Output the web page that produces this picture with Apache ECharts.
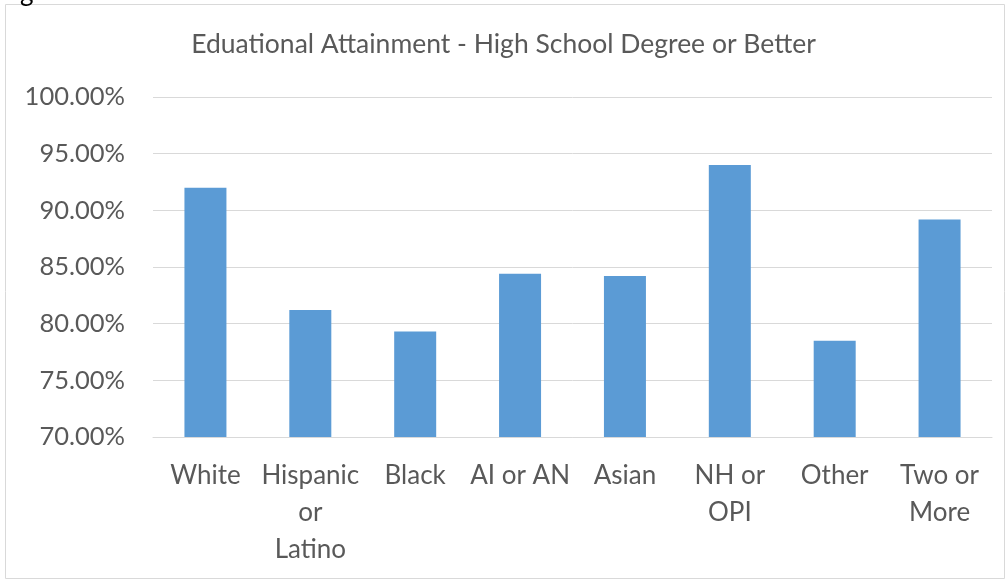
<!DOCTYPE html>
<html>
<head>
<meta charset="utf-8">
<script src="https://cdn.jsdelivr.net/npm/echarts@6/dist/echarts.min.js"></script>
<style>
  html, body { margin: 0; padding: 0; background: #fff; }
  #main { width: 1007px; height: 580px; }
</style>
</head>
<body>
<div id="main"></div>
<script>
// data
var categories = ["White", "Hispanic or Latino", "Black", "AI or AN", "Asian", "NH or OPI", "Other", "Two or More"];
var tickLabels = ["White", "Hispanic\nor\nLatino", "Black", "AI or AN", "Asian", "NH or\nOPI", "Other", "Two or\nMore"];
var attainment = [92.0, 81.2, 79.3, 84.4, 84.2, 94.0, 78.5, 89.2];

var chart = echarts.init(document.getElementById('main'));

var option = {
    animation: false,
    textStyle: { fontFamily: 'Lato' },
    title: {
        text: 'Eduational Attainment - High School Degree or Better',
        left: 'center',
        top: 26,
        textStyle: { fontFamily: 'Lato', fontSize: 26.5, fontWeight: 'normal', color: '#595959' }
    },
    graphic: [
        {
            type: 'rect',
            shape: { x: 5.5, y: 4.5, width: 999, height: 574 },
            style: { fill: 'none', stroke: '#d9d9d9', lineWidth: 1 }
        },
        {
            type: 'text',
            left: 20,
            top: -20,
            style: { text: 'g', font: '26px Lato', fill: '#000' }
        }
    ],
    grid: { left: 153, right: 15, top: 97, bottom: 143 },
    xAxis: {
        type: 'category',
        data: categories,
        axisLine: { lineStyle: { color: '#d9d9d9', width: 1 } },
        axisTick: { show: false },
        axisLabel: {
            interval: 0,
            margin: 20,
            fontSize: 26,
            lineHeight: 37,
            color: '#595959',
            formatter: function (v, i) { return tickLabels[i]; }
        }
    },
    yAxis: {
        type: 'value',
        min: 70,
        max: 100,
        interval: 5,
        axisLine: { show: false },
        axisTick: { show: false },
        splitLine: { lineStyle: { color: '#d9d9d9', width: 1 } },
        axisLabel: {
            margin: 28,
            fontSize: 25.5,
            color: '#595959',
            formatter: function (v) { return v.toFixed(2) + '%'; }
        }
    },
    series: [{
        type: 'bar',
        data: attainment,
        barWidth: 42,
        itemStyle: { color: '#5b9bd5' }
    }]
};

chart.setOption(option);
</script>
</body>
</html>
